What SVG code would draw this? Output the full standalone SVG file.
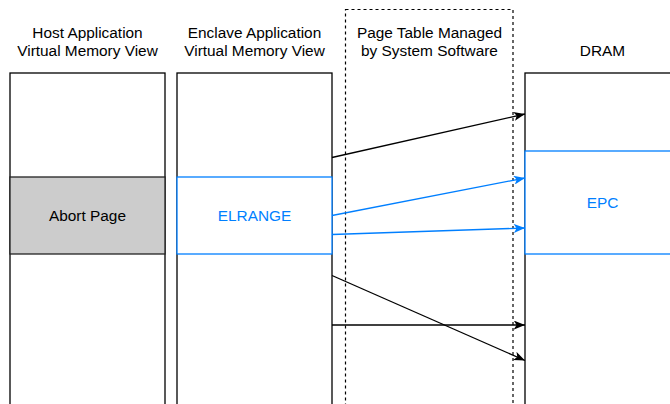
<svg xmlns="http://www.w3.org/2000/svg" width="670" height="404" viewBox="0 0 670 404">
  <style>
    .lbl { font-family: "Liberation Sans", Arial, Helvetica, sans-serif; font-size: 15.4px; text-anchor: middle; fill: #000; }
    .blue { fill: #007FFF; }
    .col { fill: #fff; stroke: #000; stroke-width: 1.3; }
    .region { fill: #fff; stroke: #007FFF; stroke-width: 1.3; }
    .abort { fill: #cccccc; stroke: #222; stroke-width: 1.3; }
    .dash { fill: none; stroke: #000; stroke-width: 1.2; stroke-dasharray: 3 3; }
    .edge { fill: none; stroke: #000; stroke-width: 1.3; }
    .edge-blue { fill: none; stroke: #007FFF; stroke-width: 1.3; }
  </style>
  <defs>
    <marker id="arrow-black" viewBox="0 0 10 8" refX="10" refY="4" markerWidth="11.5" markerHeight="9" markerUnits="userSpaceOnUse" orient="auto">
      <path d="M0,0 L10,4 L0,8 L2.5,4 Z" fill="#000"/>
    </marker>
    <marker id="arrow-blue" viewBox="0 0 10 8" refX="10" refY="4" markerWidth="11.5" markerHeight="9" markerUnits="userSpaceOnUse" orient="auto">
      <path d="M0,0 L10,4 L0,8 L2.5,4 Z" fill="#007FFF"/>
    </marker>
  </defs>
  <rect width="670" height="404" fill="#fff"/>

  <!-- host application view -->
  <g id="host-view">
    <text class="lbl" x="87.5" y="38">Host Application</text>
    <text class="lbl" x="87.5" y="56">Virtual Memory View</text>
    <rect class="col" x="10" y="73" width="155" height="360"/>
  </g>
  <g id="abort-page">
    <rect class="abort" x="10" y="177" width="155" height="77"/>
    <text class="lbl" x="87.5" y="221">Abort Page</text>
  </g>

  <!-- enclave application view -->
  <g id="enclave-view">
    <text class="lbl" x="254.5" y="38">Enclave Application</text>
    <text class="lbl" x="254.5" y="56">Virtual Memory View</text>
    <rect class="col" x="177" y="73" width="155" height="360"/>
  </g>
  <g id="elrange">
    <rect class="region" x="177" y="177" width="155" height="77"/>
    <text class="lbl blue" x="254.5" y="221">ELRANGE</text>
  </g>

  <!-- page table -->
  <g id="page-table">
    <rect class="dash" x="345.5" y="9.5" width="167.5" height="430"/>
    <text class="lbl" x="429.5" y="38">Page Table Managed</text>
    <text class="lbl" x="429.5" y="56">by System Software</text>
  </g>

  <!-- DRAM -->
  <g id="dram">
    <text class="lbl" x="602.5" y="56">DRAM</text>
    <rect class="col" x="525" y="73" width="170" height="360"/>
  </g>
  <g id="epc">
    <rect class="region" x="525" y="151" width="170" height="103"/>
    <text class="lbl blue" x="602.5" y="208">EPC</text>
  </g>

  <!-- mappings -->
  <g id="connectors">
    <line class="edge" x1="332" y1="157.5" x2="525" y2="114" marker-end="url(#arrow-black)"/>
    <line class="edge-blue" x1="332" y1="215.5" x2="525" y2="178" marker-end="url(#arrow-blue)"/>
    <line class="edge-blue" x1="332" y1="234.5" x2="525" y2="228" marker-end="url(#arrow-blue)"/>
    <line class="edge" x1="332" y1="275.5" x2="525" y2="360.5" marker-end="url(#arrow-black)"/>
    <line class="edge" x1="332" y1="325" x2="525" y2="325" marker-end="url(#arrow-black)"/>
  </g>
</svg>
